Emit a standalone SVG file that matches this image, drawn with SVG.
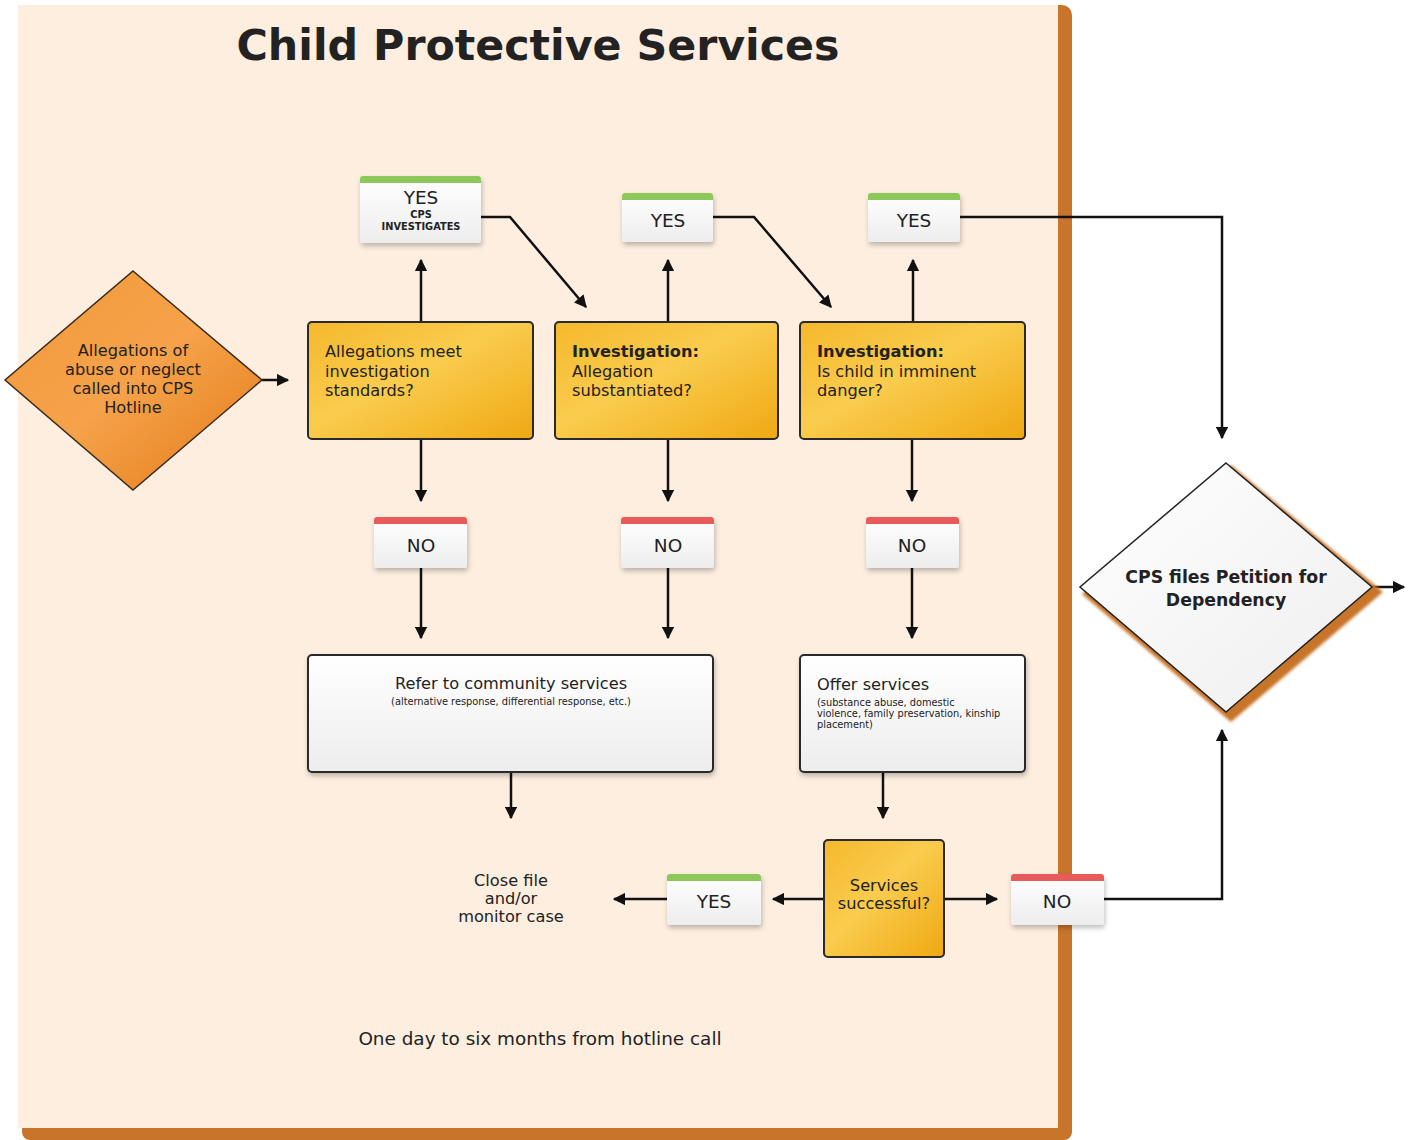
<svg xmlns="http://www.w3.org/2000/svg" width="1411" height="1140" viewBox="0 0 1411 1140">
<defs>
<linearGradient id="gYel" x1="0" y1="0" x2="1" y2="1">
<stop offset="0" stop-color="#F5B82C"/><stop offset="0.45" stop-color="#FACC4E"/><stop offset="1" stop-color="#EFA812"/>
</linearGradient>
<linearGradient id="gOr" x1="0" y1="0" x2="1" y2="1">
<stop offset="0" stop-color="#F29A3A"/><stop offset="0.5" stop-color="#F5A24A"/><stop offset="1" stop-color="#E37A16"/>
</linearGradient>
<linearGradient id="gWhite" x1="0" y1="0" x2="0" y2="1">
<stop offset="0" stop-color="#FFFFFF"/><stop offset="1" stop-color="#EDEDED"/>
</linearGradient>
<linearGradient id="gDia" x1="0" y1="0" x2="1" y2="1">
<stop offset="0" stop-color="#FFFFFF"/><stop offset="1" stop-color="#EEEEEE"/>
</linearGradient>
<filter id="sh" x="-20%" y="-20%" width="140%" height="150%">
<feDropShadow dx="1" dy="3" stdDeviation="2.5" flood-color="#000" flood-opacity="0.25"/>
</filter>
<filter id="blur" x="-10%" y="-10%" width="120%" height="120%">
<feGaussianBlur stdDeviation="1.5"/>
</filter>
<marker id="ah" viewBox="0 0 10 10" refX="9" refY="5" markerWidth="5" markerHeight="5" orient="auto" markerUnits="strokeWidth">
<path d="M0,0 L10,5 L0,10 z" fill="#111"/>
</marker>
<style>
text{font-family:"DejaVu Sans","Liberation Sans",Arial,sans-serif;fill:#222}
.t15{font-size:16.2px}
.b{font-weight:bold}
.lbl{font-size:18.5px;text-anchor:middle}
.box{stroke:#2a2a2a;stroke-width:2}
.card{fill:url(#gWhite);filter:url(#sh)}
.c{stroke:#111;stroke-width:2.5;fill:none;marker-end:url(#ah)}
.mid{text-anchor:middle}
.small{font-size:9.8px}
</style>
</defs>

<!-- panel -->
<g id="panel">
<rect x="1040" y="5" width="32" height="1130" rx="10" fill="#C8742A"/>
<rect x="22" y="1100" width="1050" height="40" rx="8" fill="#C8742A"/>
<rect x="18" y="5" width="1040" height="1123" fill="#FDEEDF"/>
<text x="538" y="60" text-anchor="middle" font-size="43" font-weight="bold" fill="#111" textLength="603" lengthAdjust="spacingAndGlyphs">Child Protective Services</text>
<text x="540" y="1045" class="mid" font-size="18.4" fill="#333">One day to six months from hotline call</text>
</g>

<!-- connectors -->
<g id="connectors">
<line class="c" x1="262" y1="380" x2="288" y2="380"/>
<line class="c" x1="421" y1="322" x2="421" y2="260"/>
<line class="c" x1="668" y1="322" x2="668" y2="260"/>
<line class="c" x1="913" y1="322" x2="913" y2="260"/>
<polyline class="c" points="481,217 510,217 586,307"/>
<polyline class="c" points="713,217 754,217 831,307"/>
<polyline class="c" points="960,217 1222,217 1222,438"/>
<line class="c" x1="421" y1="439" x2="421" y2="501"/>
<line class="c" x1="668" y1="439" x2="668" y2="501"/>
<line class="c" x1="912" y1="439" x2="912" y2="501"/>
<line class="c" x1="421" y1="568" x2="421" y2="638"/>
<line class="c" x1="668" y1="568" x2="668" y2="638"/>
<line class="c" x1="912" y1="568" x2="912" y2="638"/>
<line class="c" x1="511" y1="772" x2="511" y2="818"/>
<line class="c" x1="883" y1="772" x2="883" y2="818"/>
<line class="c" x1="824" y1="899" x2="773" y2="899"/>
<line class="c" x1="667" y1="899" x2="614" y2="899"/>
<line class="c" x1="944" y1="899" x2="997" y2="899"/>
<polyline class="c" points="1104,899 1222,899 1222,730"/>
<line class="c" x1="1372" y1="587" x2="1404" y2="587"/>
</g>

<!-- start diamond -->
<g id="n-hotline">
<polygon points="133,271 262,380 133,490 5,380" fill="url(#gOr)" stroke="#3a2a1a" stroke-width="1.5"/>
<text class="t15 mid" x="133" y="356">Allegations of</text>
<text class="t15 mid" x="133" y="375">abuse or neglect</text>
<text class="t15 mid" x="133" y="394">called into CPS</text>
<text class="t15 mid" x="133" y="413">Hotline</text>
</g>

<g id="n-standards">
<rect class="box" x="308" y="322" width="225" height="117" rx="4" fill="url(#gYel)"/>
<text class="t15" x="325" y="357">Allegations meet</text>
<text class="t15" x="325" y="377">investigation</text>
<text class="t15" x="325" y="396">standards?</text>
</g>

<g id="n-substantiated">
<rect class="box" x="555" y="322" width="223" height="117" rx="4" fill="url(#gYel)"/>
<text class="t15 b" x="572" y="357">Investigation:</text>
<text class="t15" x="572" y="377">Allegation</text>
<text class="t15" x="572" y="396">substantiated?</text>
</g>

<g id="n-danger">
<rect class="box" x="800" y="322" width="225" height="117" rx="4" fill="url(#gYel)"/>
<text class="t15 b" x="817" y="357">Investigation:</text>
<text class="t15" x="817" y="377">Is child in imminent</text>
<text class="t15" x="817" y="396">danger?</text>
</g>

<g id="yes1">
<rect class="card" x="360" y="176" width="121" height="67" rx="3"/>
<path d="M360,183 v-4 a3,3 0 0 1 3,-3 h115 a3,3 0 0 1 3,3 v4 z" fill="#8DC85A"/>
<text class="lbl" x="421" y="204">YES</text>
<text class="mid b" x="421" y="218" font-size="9.8">CPS</text>
<text class="mid b" x="421" y="230" font-size="9.8">INVESTIGATES</text>
</g>

<g id="yes2">
<rect class="card" x="622" y="193" width="91" height="49" rx="3"/>
<path d="M622,200 v-4 a3,3 0 0 1 3,-3 h85 a3,3 0 0 1 3,3 v4 z" fill="#8DC85A"/>
<text class="lbl" x="668" y="227">YES</text>
</g>

<g id="yes3">
<rect class="card" x="868" y="193" width="92" height="49" rx="3"/>
<path d="M868,200 v-4 a3,3 0 0 1 3,-3 h86 a3,3 0 0 1 3,3 v4 z" fill="#8DC85A"/>
<text class="lbl" x="914" y="227">YES</text>
</g>

<g id="no1">
<rect class="card" x="374" y="517" width="93" height="51" rx="3"/>
<path d="M374,524 v-4 a3,3 0 0 1 3,-3 h87 a3,3 0 0 1 3,3 v4 z" fill="#E85B5B"/>
<text class="lbl" x="421" y="552">NO</text>
</g>

<g id="no2">
<rect class="card" x="621" y="517" width="93" height="51" rx="3"/>
<path d="M621,524 v-4 a3,3 0 0 1 3,-3 h87 a3,3 0 0 1 3,3 v4 z" fill="#E85B5B"/>
<text class="lbl" x="668" y="552">NO</text>
</g>

<g id="no3">
<rect class="card" x="866" y="517" width="93" height="51" rx="3"/>
<path d="M866,524 v-4 a3,3 0 0 1 3,-3 h87 a3,3 0 0 1 3,3 v4 z" fill="#E85B5B"/>
<text class="lbl" x="912" y="552">NO</text>
</g>

<g id="n-refer">
<rect class="box" x="308" y="655" width="405" height="117" rx="4" fill="url(#gWhite)" filter="url(#sh)"/>
<text class="t15 mid" x="511" y="689">Refer to community services</text>
<text class="small mid" x="511" y="705">(alternative response, differential response, etc.)</text>
</g>

<g id="n-offer">
<rect class="box" x="800" y="655" width="225" height="117" rx="4" fill="url(#gWhite)" filter="url(#sh)"/>
<text class="t15" x="817" y="690">Offer services</text>
<text class="small" x="817" y="706">(substance abuse, domestic</text>
<text class="small" x="817" y="717">violence, family preservation, kinship</text>
<text class="small" x="817" y="728">placement)</text>
</g>

<g id="n-success">
<rect class="box" x="824" y="840" width="120" height="117" rx="4" fill="url(#gYel)"/>
<text class="t15 mid" x="884" y="891">Services</text>
<text class="t15 mid" x="884" y="909">successful?</text>
</g>

<g id="yes4">
<rect class="card" x="667" y="874" width="94" height="51" rx="3"/>
<path d="M667,881 v-4 a3,3 0 0 1 3,-3 h88 a3,3 0 0 1 3,3 v4 z" fill="#8DC85A"/>
<text class="lbl" x="714" y="908">YES</text>
</g>

<g id="no4">
<rect class="card" x="1011" y="874" width="93" height="51" rx="3"/>
<path d="M1011,881 v-4 a3,3 0 0 1 3,-3 h87 a3,3 0 0 1 3,3 v4 z" fill="#E85B5B"/>
<text class="lbl" x="1057" y="908">NO</text>
</g>

<g id="n-close">
<text class="t15 mid" x="511" y="886">Close file</text>
<text class="t15 mid" x="511" y="904">and/or</text>
<text class="t15 mid" x="511" y="922">monitor case</text>
</g>

<g id="n-petition">
<polygon points="1231,465 1383,592 1231,722 1082,594" fill="#C8742A" filter="url(#blur)"/>
<polygon points="1226,463 1372,587 1226,712 1080,587" fill="url(#gDia)" stroke="#222" stroke-width="1.5"/>
<text class="mid b" x="1226" y="583" font-size="17.3">CPS files Petition for</text>
<text class="mid b" x="1226" y="606" font-size="17.3">Dependency</text>
</g>
</svg>
